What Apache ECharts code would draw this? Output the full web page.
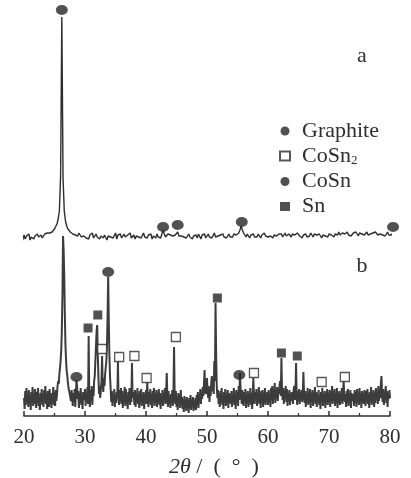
<!DOCTYPE html>
<html>
<head>
<meta charset="utf-8">
<script src="https://cdn.jsdelivr.net/npm/echarts@6/dist/echarts.min.js"></script>
<style>
  html, body { margin: 0; padding: 0; background: #fff; }
  #chart { width: 411px; height: 478px; }
</style>
</head>
<body>
<div id="chart"></div>
<script>
// pattern a (graphite), 19.6° .. 83.0°, 0.2° steps
const startA = 19.6
const stepA = 0.2
const intensityA = [
  180, 176,
  181, 177, 180, 178, 182, 176, 179, 181, 177, 180,
  178, 182, 179, 180, 181, 178, 180, 182, 181, 183,
  181, 183, 182, 184, 185, 187, 189, 192, 197, 205,
  240, 399, 238, 205, 195, 190, 187, 185, 184, 183,
  182, 184, 181, 182, 180, 183, 181, 179, 181, 180,
  182, 178, 180, 177, 181, 179, 183, 178, 180, 182,
  179, 181, 177, 180, 182, 178, 181, 179, 176, 180,
  182, 179, 181, 178, 180, 183, 177, 181, 179, 182,
  178, 180, 182, 179, 177, 181, 180, 183, 178, 180,
  181, 177, 180, 182, 179, 181, 178, 180, 183, 179,
  180, 178, 181, 179, 182, 177, 180, 181, 178, 182,
  179, 181, 178, 180, 186, 182, 179, 181, 182, 184,
  181, 183, 180, 182, 181, 182, 184, 180, 178, 180,
  182, 179, 181, 178, 180, 182, 179, 181, 177, 180,
  179, 181, 178, 182, 180, 177, 181, 179, 182, 178,
  180, 182, 179, 181, 178, 180, 183, 179, 181, 180,
  178, 181, 180, 182, 179, 181, 178, 180, 182, 179,
  181, 179, 182, 180, 181, 180, 183, 186, 190, 186,
  183, 181, 179, 182, 180, 178, 181, 180, 182, 179,
  181, 179, 182, 180, 178, 181, 179, 183, 180, 182,
  179, 181, 180, 182, 178, 181, 183, 180, 179, 182,
  180, 182, 179, 181, 183, 180, 178, 182, 181, 179,
  182, 180, 181, 179, 183, 181, 180, 182, 178, 181,
  180, 182, 179, 181, 180, 183, 181, 179, 182, 180,
  181, 179, 182, 180, 178, 181, 183, 180, 182, 179,
  182, 180, 181, 183, 179, 182, 180, 181, 184, 181,
  180, 183, 181, 182, 180, 184, 181, 183, 180, 182,
  183, 181, 184, 182, 180, 183, 181, 182, 184, 181,
  182, 184, 181, 183, 182, 180, 183, 181, 184, 182,
  181, 183, 182, 184, 181, 183, 180, 182, 184, 181,
  183, 181, 182, 184, 182, 180, 183, 181, 182, 184,
  181, 183, 180, 182, 181, 183
]

// pattern b (composite), 20.0° .. 80.0°, 0.1° steps
const startB = 20.0
const stepB = 0.1
const intensityB = [
  18, 7, 25, 11, 28, 14, 22, 9, 26, 13, 20, 6, 24, 15, 29, 10, 21, 12, 27, 16,
  8, 24, 13, 28, 10, 19, 6, 23, 15, 27, 11, 21, 9, 26, 14, 30, 12, 22, 7, 25,
  16, 9, 27, 12, 23, 8, 20, 14, 29, 11, 24, 10, 26, 15, 21, 30, 35, 32, 42, 48,
  55, 65, 85, 120, 180, 165, 140, 100, 70, 55, 45, 40, 33, 28, 30, 22, 24, 15, 26, 18,
  10, 23, 14, 27, 9, 21, 36, 30, 17, 25, 8, 22, 13, 28, 11, 19, 7, 24, 16, 20,
  27, 10, 23, 14, 29, 12, 80, 18, 9, 26, 15, 30, 11, 24, 20, 35, 40, 55, 70, 85,
  91, 60, 40, 22, 30, 18, 26, 35, 60, 32, 24, 38, 30, 42, 40, 55, 70, 100, 139, 95,
  60, 40, 28, 14, 25, 10, 22, 15, 27, 9, 20, 13, 24, 18, 54, 16, 11, 26, 14, 28,
  12, 25, 8, 22, 15, 29, 10, 27, 13, 20, 7, 24, 16, 28, 11, 22, 14, 53, 18, 24,
  20, 11, 26, 9, 23, 14, 28, 12, 21, 8, 25, 15, 27, 10, 19, 13, 24, 7, 22, 16,
  26, 12, 34, 18, 9, 24, 14, 27, 11, 21, 8, 25, 16, 28, 10, 22, 13, 26, 9, 20,
  15, 27, 11, 23, 7, 20, 14, 26, 10, 22, 16, 28, 12, 24, 43, 20, 9, 25, 13, 19,
  8, 22, 14, 26, 10, 24, 69, 20, 12, 25, 9, 18, 6, 23, 13, 21, 8, 26, 11, 19,
  7, 17, 4, 20, 10, 15, 5, 19, 9, 14, 3, 18, 8, 21, 6, 16, 11, 19, 5, 13,
  9, 18, 6, 21, 11, 24, 8, 20, 14, 27, 12, 23, 17, 29, 20, 32, 46, 26, 22, 30,
  38, 24, 18, 30, 14, 26, 20, 34, 40, 25, 28, 22, 55, 35, 113, 60, 30, 18, 26, 12,
  22, 9, 25, 14, 28, 11, 20, 7, 24, 15, 27, 10, 21, 13, 26, 8, 23, 16, 19, 12,
  25, 9, 22, 14, 28, 11, 19, 7, 26, 13, 24, 10, 30, 16, 43, 28, 20, 12, 26, 15,
  10, 24, 14, 27, 8, 21, 13, 25, 9, 20, 15, 28, 11, 23, 7, 22, 38, 19, 12, 24,
  16, 27, 10, 22, 14, 29, 12, 20, 8, 25, 15, 26, 9, 23, 13, 28, 11, 21, 17, 24,
  11, 26, 14, 22, 9, 28, 16, 30, 12, 24, 18, 33, 13, 26, 20, 29, 15, 27, 22, 31,
  35, 20, 58, 24, 16, 28, 12, 25, 19, 30, 14, 27, 10, 23, 17, 26, 11, 22, 15, 24,
  20, 12, 26, 30, 16, 22, 53, 18, 11, 25, 15, 27, 12, 23, 18, 26, 14, 21, 44, 24,
  13, 25, 9, 22, 16, 28, 11, 20, 14, 27, 8, 23, 15, 26, 10, 21, 17, 29, 12, 24,
  9, 22, 14, 26, 11, 19, 7, 24, 15, 28, 10, 21, 13, 25, 8, 20, 16, 27, 11, 23,
  14, 26, 9, 22, 16, 30, 12, 24, 18, 27, 10, 21, 15, 28, 8, 23, 13, 25, 11, 20,
  17, 28, 12, 24, 35, 20, 14, 22, 9, 25, 13, 27, 10, 21, 16, 26, 8, 23, 15, 19,
  22, 10, 26, 13, 24, 9, 27, 15, 21, 11, 28, 14, 23, 8, 25, 16, 20, 12, 26, 18,
  10, 25, 14, 27, 12, 22, 8, 24, 16, 29, 11, 21, 15, 26, 9, 23, 13, 28, 17, 24,
  12, 30, 15, 26, 18, 32, 40, 20, 14, 27, 11, 24, 16, 30, 13, 25, 9, 22, 17, 26,
  18
]

// phase markers [2θ, intensity]
const graphitePeaks = [[26.2, 406], [42.8, 189], [45.2, 191], [55.7, 194], [80.5, 189]]
const cosnPeaks = [[28.6, 39], [33.8, 144], [55.3, 41]]
const cosn2Peaks = [[32.8, 67], [35.6, 59], [38.1, 60], [40.1, 38], [44.9, 79], [57.7, 43], [68.8, 34], [72.6, 39]]
const snPeaks = [[30.5, 88], [32.1, 101], [51.7, 118], [62.2, 63], [64.8, 60]]

const xTicks = [20, 30, 40, 50, 60, 70, 80]

const toPairs = (start, step, values) => values.map((v, i) => [+(start + i * step).toFixed(1), v])

const ink = '#2e2e2e'
const serif = '"Liberation Serif", "DejaVu Serif", serif'

const chart = echarts.init(document.getElementById('chart'))

const traceStyle = {
  type: 'line',
  showSymbol: false,
  clip: false,
  silent: true,
  animation: false,
}

const markerStyle = (name, data, symbol, size, itemStyle) => ({
  name,
  type: 'scatter',
  data,
  symbol,
  symbolSize: size,
  clip: false,
  animation: false,
  itemStyle,
  z: 5,
})

chart.setOption({
  backgroundColor: '#fff',
  grid: { left: 24, right: 21, top: 8, bottom: 62, outerBoundsMode: 'none' },
  xAxis: {
    type: 'value',
    min: xTicks[0],
    max: xTicks[xTicks.length - 1],
    interval: 10,
    axisLine: { lineStyle: { color: ink, width: 1.5 } },
    axisTick: { inside: true, length: 5, lineStyle: { color: ink, width: 1.5 } },
    minorTick: { show: true, splitNumber: 2, length: 3, lineStyle: { color: ink, width: 1.2 } },
    splitLine: { show: false },
    axisLabel: { color: ink, fontFamily: serif, fontSize: 21, margin: 11 },
    name: '{it|2θ} /  (  °  )',
    nameLocation: 'middle',
    nameGap: 40,
    nameTextStyle: {
      color: ink,
      fontFamily: serif,
      fontSize: 22,
      padding: [0, 0, 0, 14],
      rich: { it: { fontStyle: 'italic', fontFamily: serif, fontSize: 22, color: ink } },
    },
  },
  yAxis: { type: 'value', min: 0, max: 408, show: false },
  legend: {
    data: ['Graphite', 'CoSn2', 'CoSn', 'Sn'],
    orient: 'vertical',
    left: 279,
    top: 120,
    padding: 0,
    itemWidth: 10,
    itemHeight: 9,
    itemGap: 3,
    selectedMode: false,
    formatter: (name) => (name === 'CoSn2' ? 'CoSn{sub|2}' : name),
    textStyle: {
      color: ink,
      fontFamily: serif,
      fontSize: 22,
      lineHeight: 20,
      padding: [0, 0, 0, 7],
      rich: { sub: { fontFamily: serif, fontSize: 13, color: ink, padding: [10, 0, 0, 0] } },
    },
  },
  graphic: [
    { type: 'text', x: 362, y: 56, style: { text: 'a', font: '22px ' + serif, fill: ink, textAlign: 'center', textVerticalAlign: 'middle' } },
    { type: 'text', x: 362, y: 266, style: { text: 'b', font: '22px ' + serif, fill: ink, textAlign: 'center', textVerticalAlign: 'middle' } },
  ],
  series: [
    { ...traceStyle, name: 'a', data: toPairs(startA, stepA, intensityA), lineStyle: { color: ink, width: 1.4 } },
    { ...traceStyle, name: 'b', data: toPairs(startB, stepB, intensityB), lineStyle: { color: '#3c3c3c', width: 2 } },
    markerStyle('Graphite', graphitePeaks, 'circle', [12, 10], { color: '#262626' }),
    markerStyle('CoSn2', cosn2Peaks, 'rect', 9, { color: '#fff', borderColor: ink, borderWidth: 1.3 }),
    markerStyle('CoSn', cosnPeaks, 'circle', [12, 10], { color: '#262626' }),
    markerStyle('Sn', snPeaks, 'rect', 9, { color: '#262626' }),
  ],
})
</script>
</body>
</html>
